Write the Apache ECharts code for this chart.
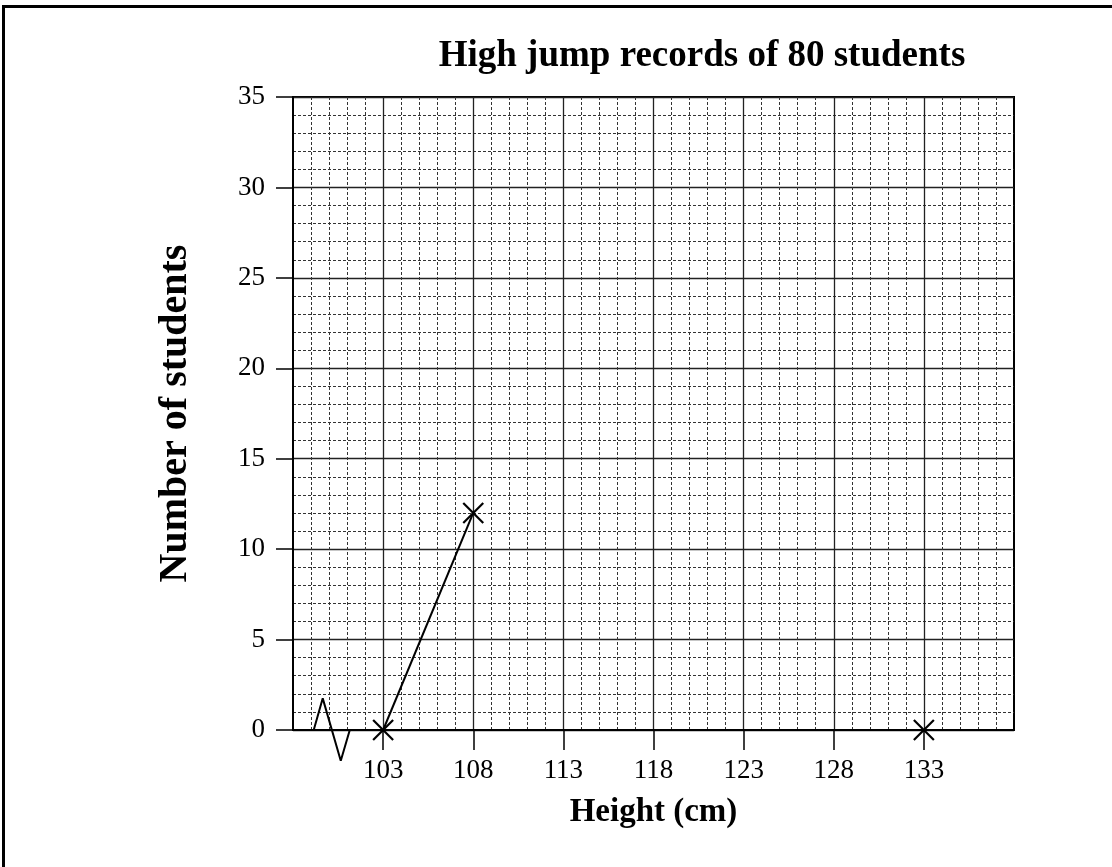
<!DOCTYPE html>
<html>
<head>
<meta charset="utf-8">
<script src="https://cdn.jsdelivr.net/npm/echarts@6/dist/echarts.min.js"></script>
<style>
html,body{margin:0;padding:0;background:#fff;}
#chart{width:1112px;height:867px;}
</style>
</head>
<body>
<div id="chart"></div>
<script>
// ---- data ----
const titleText = 'High jump records of 80 students';
const xName = 'Height (cm)';
const yName = 'Number of students';
const heights = [103, 108, 113, 118, 123, 128, 133];
const students = [0, 12, '-', '-', '-', '-', 0];
const xTickLabels = [103, 108, 113, 118, 123, 128, 133];
const yTickLabels = [0, 5, 10, 15, 20, 25, 30, 35];
// axis-break zigzag drawn in axis units
const breakX = [99.15, 99.65, 100.65, 101.15];
const breakY = [0, 1.75, -1.7, 0];

const serif = '"Liberation Serif", "Times New Roman", serif';
const chart = echarts.init(document.getElementById('chart'));

chart.setOption({
  backgroundColor: '#fff',
  animation: false,
  title: {
    text: titleText,
    left: 697,
    top: 33,
    textAlign: 'center',
    textStyle: { fontFamily: serif, fontWeight: 'bold', fontSize: 37, color: '#000' }
  },
  graphic: [{
    type: 'rect',
    shape: { x: 3.5, y: 6.5, width: 3000, height: 3000 },
    style: { fill: 'none', stroke: '#000', lineWidth: 3 },
    silent: true
  }],
  grid: {
    left: 293, top: 97, width: 721, height: 633,
    show: true, borderColor: '#000', borderWidth: 2, backgroundColor: 'transparent'
  },
  xAxis: {
    type: 'value',
    min: 98, max: 138, interval: 5,
    name: xName,
    nameLocation: 'middle',
    nameGap: 66,
    nameTextStyle: { fontFamily: serif, fontWeight: 'bold', fontSize: 33, color: '#000' },
    axisLine: { show: true, onZero: false, lineStyle: { color: '#000', width: 2 } },
    axisTick: { show: true, length: 20, customValues: xTickLabels, lineStyle: { color: '#000', width: 1.5 } },
    axisLabel: { customValues: xTickLabels, margin: 27, fontFamily: serif, fontSize: 27, color: '#000' },
    splitLine: { show: true, lineStyle: { color: '#222', width: 1.3 } },
    minorTick: { show: false, splitNumber: 5 },
    minorSplitLine: { show: true, lineStyle: { color: '#333', width: 1, type: [3, 2] } }
  },
  yAxis: {
    type: 'value',
    min: 0, max: 35, interval: 5,
    name: yName,
    nameLocation: 'middle',
    nameGap: 97,
    nameTextStyle: { fontFamily: serif, fontWeight: 'bold', fontSize: 40, color: '#000' },
    axisLine: { show: true, lineStyle: { color: '#000', width: 2 } },
    axisTick: { show: true, length: 17, lineStyle: { color: '#000', width: 1.5 } },
    axisLabel: {
      margin: 28, fontFamily: serif, fontSize: 27, color: '#000',
      formatter: v => (yTickLabels.indexOf(v) >= 0 ? String(v) : '')
    },
    splitLine: { show: true, lineStyle: { color: '#222', width: 1.3 } },
    minorTick: { show: false, splitNumber: 5 },
    minorSplitLine: { show: true, lineStyle: { color: '#333', width: 1, type: [3, 2] } }
  },
  series: [
    {
      type: 'line',
      data: heights.map((h, i) => [h, students[i]]),
      connectNulls: false,
      symbol: 'path://M0,0L10,10M10,0L0,10',
      symbolSize: 20,
      itemStyle: { color: '#000', borderColor: '#000', borderWidth: 2.2 },
      lineStyle: { color: '#000', width: 2 },
      clip: false,
      z: 5
    },
    {
      type: 'line',
      data: breakX.map((x, i) => [x, breakY[i]]),
      symbol: 'none',
      lineStyle: { color: '#000', width: 2 },
      clip: false,
      silent: true,
      z: 4
    }
  ]
});
</script>
</body>
</html>
